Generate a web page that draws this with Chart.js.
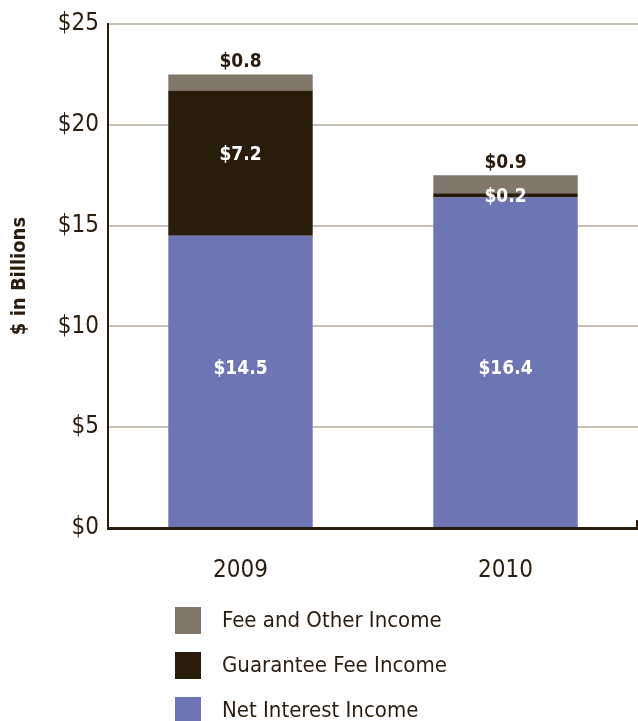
<!DOCTYPE html>
<html lang="en">
<head>
    <meta charset="UTF-8">
    <title>Income by Source</title>
    <script src="https://cdn.jsdelivr.net/npm/chart.js"></script>
    <style>
        body { margin: 0; background: #fff; }
        .chart-container { width: 638px; height: 721px; position: relative; }
    </style>
</head>
<body>
<div class="chart-container">
    <canvas id="incomeChart"></canvas>
</div>

<script>
    // data ($ billions)
    const years = ['2009', '2010'];
    const netInterestIncome = [14.5, 16.4];
    const guaranteeFeeIncome = [7.2, 0.2];
    const feeOtherIncome = [0.8, 0.9];
    const yTickValues = [0, 5, 10, 15, 20, 25];

    const FONT = "'Liberation Sans Narrow', 'DejaVu Sans Condensed', 'Liberation Sans', sans-serif";
    const TEXT = '#2b1d0e';

    // value labels on each segment
    const segmentLabels = {
        id: 'segmentLabels',
        afterDatasetsDraw(chart) {
            const ctx = chart.ctx;
            ctx.save();
            ctx.textAlign = 'center';
            ctx.textBaseline = 'middle';
            ctx.font = 'bold 19px ' + FONT;
            chart.data.datasets.forEach((ds, i) => {
                const meta = chart.getDatasetMeta(i);
                meta.data.forEach((bar, j) => {
                    const text = '$' + ds.data[j].toFixed(1);
                    let y;
                    if (ds.labelPos === 'above') {
                        ctx.fillStyle = TEXT;
                        y = bar.y - 12;
                    } else if (ds.labelPos === 'fixed') {
                        ctx.fillStyle = '#ffffff';
                        y = chart.scales.y.getPixelForValue(7.9);
                    } else {
                        ctx.fillStyle = '#ffffff';
                        y = (bar.y + bar.base) / 2 + (bar.base - bar.y > 40 ? -8 : 2);
                    }
                    ctx.fillText(text, bar.x, y);
                });
            });
            // small upward tick at the right end of the x axis
            const area = chart.chartArea;
            ctx.fillStyle = TEXT;
            ctx.fillRect(area.right - 2, area.bottom - 8, 2, 8);
            ctx.restore();
        }
    };

    // vertical legend below the axis, top series first
    const stackedLegend = {
        id: 'stackedLegend',
        afterDraw(chart) {
            const ctx = chart.ctx;
            ctx.save();
            ctx.font = '22px ' + FONT;
            ctx.textBaseline = 'middle';
            const items = chart.data.datasets.slice().reverse();
            items.forEach((ds, k) => {
                const top = 607 + k * 45;
                ctx.fillStyle = ds.backgroundColor;
                ctx.fillRect(175, top, 26, 27);
                ctx.fillStyle = TEXT;
                ctx.fillText(ds.label, 222, top + 14);
            });
            ctx.restore();
        }
    };

    const ctx = document.getElementById('incomeChart').getContext('2d');
    new Chart(ctx, {
        type: 'bar',
        data: {
            labels: years,
            datasets: [
                { label: 'Net Interest Income', data: netInterestIncome, backgroundColor: '#6e75b4', labelPos: 'fixed' },
                { label: 'Guarantee Fee Income', data: guaranteeFeeIncome, backgroundColor: '#2a1c0b', labelPos: 'inside' },
                { label: 'Fee and Other Income', data: feeOtherIncome, backgroundColor: '#82776a', labelPos: 'above' }
            ]
        },
        options: {
            responsive: true,
            maintainAspectRatio: false,
            animation: false,
            datasets: {
                bar: { barPercentage: 0.545, categoryPercentage: 1.0, borderWidth: 0 }
            },
            layout: { padding: { top: 24, right: 0, left: 0, bottom: 0 } },
            plugins: {
                legend: { display: false },
                tooltip: { enabled: false }
            },
            scales: {
                x: {
                    stacked: true,
                    grid: { display: false, drawTicks: false },
                    border: { display: true, color: TEXT, width: 3 },
                    ticks: { color: TEXT, font: { family: FONT, size: 24 }, padding: 28 },
                    afterFit(scale) { scale.height = 193; }
                },
                y: {
                    stacked: true,
                    min: 0,
                    max: 25,
                    afterBuildTicks(scale) { scale.ticks = yTickValues.map(v => ({ value: v })); },
                    grid: { color: '#c9c0b3', lineWidth: 2, drawTicks: false },
                    border: { display: true, color: TEXT, width: 2 },
                    ticks: {
                        color: TEXT,
                        font: { family: FONT, size: 24 },
                        padding: 9,
                        callback: v => '$' + v
                    },
                    title: {
                        display: true,
                        text: '$ in Billions',
                        color: TEXT,
                        font: { family: FONT, size: 20, weight: 'bold' },
                        padding: { top: 8, bottom: 0 }
                    },
                    afterFit(scale) { scale.width = 108; }
                }
            }
        },
        plugins: [segmentLabels, stackedLegend]
    });
</script>
</body>
</html>
